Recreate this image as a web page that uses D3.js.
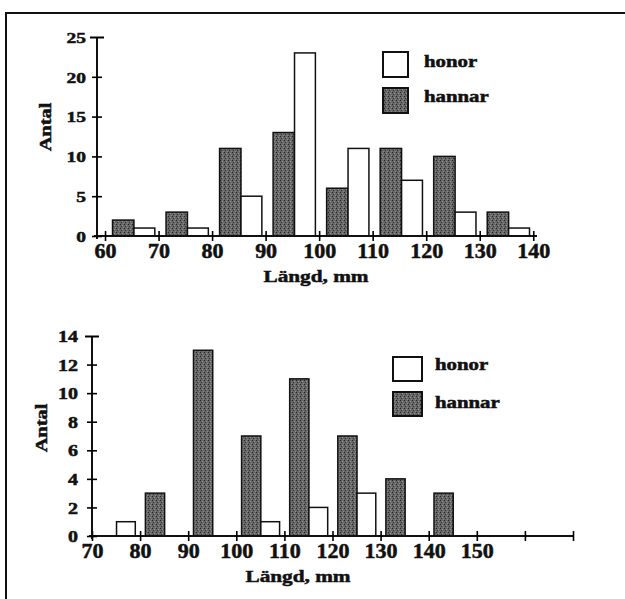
<!DOCTYPE html>
<html lang="sv">
<head>
<meta charset="UTF-8">
<script src="https://d3js.org/d3.v7.min.js"></script>
<style>
  body { margin: 0; background: #fff; }
  svg text { font-family: "Liberation Serif", "Times New Roman", serif; font-weight: bold; fill: #111;
             stroke: #111; stroke-width: 0.5px; }
</style>
</head>
<body>
<script>
// övre diagrammet
const topBins = [60, 70, 80, 90, 100, 110, 120, 130];
const topHonor = [1, 1, 5, 23, 11, 7, 3, 1];
const topHannar = [2, 3, 11, 13, 6, 11, 10, 3];
const topXTicks = [60, 70, 80, 90, 100, 110, 120, 130, 140];
const topYTicks = [0, 5, 10, 15, 20, 25];

// nedre diagrammet
const botBins = [70, 80, 90, 100, 110, 120, 130, 140];
const botHonor = [1, 0, 0, 1, 2, 3, 0, 0];
const botHannar = [0, 3, 13, 7, 11, 7, 4, 3];
const botXTicks = [70, 80, 90, 100, 110, 120, 130, 140, 150, 160, 170];
const botXLabels = [70, 80, 90, 100, 110, 120, 130, 140, 150];
const botYTicks = [0, 2, 4, 6, 8, 10, 12, 14];

const seriesNames = ["honor", "hannar"];

const W = 625, H = 599;
const svg = d3.select("body").append("svg").attr("width", W).attr("height", H);

// prickigt grått mönster för hannar
const pat = svg.append("defs").append("pattern")
  .attr("id", "stipple").attr("width", 4).attr("height", 4)
  .attr("patternUnits", "userSpaceOnUse");
pat.append("rect").attr("width", 4).attr("height", 4).attr("fill", "#666");
pat.append("rect").attr("x", 0).attr("y", 0).attr("width", 1).attr("height", 1).attr("fill", "#222");
pat.append("rect").attr("x", 2).attr("y", 1).attr("width", 1).attr("height", 1).attr("fill", "#999");
pat.append("rect").attr("x", 1).attr("y", 2).attr("width", 1).attr("height", 1).attr("fill", "#333");
pat.append("rect").attr("x", 3).attr("y", 3).attr("width", 1).attr("height", 1).attr("fill", "#888");
const DARK = "url(#stipple)";

// ram
svg.append("line").attr("x1", 6).attr("x2", W).attr("y1", 13).attr("y2", 13)
  .attr("stroke", "#111").attr("stroke-width", 2);
svg.append("line").attr("x1", 6).attr("x2", 6).attr("y1", 12).attr("y2", H)
  .attr("stroke", "#111").attr("stroke-width", 2);

function label(x, y, s, size, sx, anchor, rot) {
  const t = svg.append("text")
    .attr("transform", `translate(${x},${y}) rotate(${rot || 0}) scale(${sx},1)`)
    .attr("text-anchor", anchor || "middle")
    .style("font-size", size + "px")
    .text(s);
  return t;
}

function drawChart(o) {
  const x = d3.scaleLinear().domain(o.xDomain).range(o.xRange);
  const y = d3.scaleLinear().domain(o.yDomain).range(o.yRange);
  const g = svg.append("g");

  // staplar
  o.bins.forEach((b, i) => {
    if (o.hannar[i] > 0) {
      g.append("rect")
        .attr("x", x(b + o.off[0])).attr("width", x(b + o.off[1]) - x(b + o.off[0]))
        .attr("y", y(o.hannar[i])).attr("height", y(0) - y(o.hannar[i]))
        .attr("fill", DARK).attr("stroke", "#111").attr("stroke-width", 1.5);
    }
    if (o.honor[i] > 0) {
      g.append("rect")
        .attr("x", x(b + o.off[1])).attr("width", x(b + o.off[2]) - x(b + o.off[1]))
        .attr("y", y(o.honor[i])).attr("height", y(0) - y(o.honor[i]))
        .attr("fill", "#fff").attr("stroke", "#111").attr("stroke-width", 1.5);
    }
  });

  // x-axel
  const xa = g.append("g").attr("transform", `translate(0,${o.yRange[0]})`)
    .call(d3.axisBottom(x).tickValues(o.xTicks).tickSize(5)
      .tickFormat(d => o.xLabels.includes(d) ? d : ""));
  xa.select(".domain").attr("stroke", "#111").attr("stroke-width", 2)
    .attr("d", `M${o.xRange[0] - 3},0H${o.xRange[1]}`);
  xa.selectAll(".tick line").attr("y1", -5).attr("y2", 5).attr("stroke-width", 1.6);
  xa.selectAll(".tick text").attr("y", 22).attr("dy", null)
    .attr("transform", `scale(${o.xsx},1)`)
    .style("font-size", o.xfs + "px").style("font-family", null).attr("fill", "#111");

  // y-axel
  const ya = g.append("g").attr("transform", `translate(${o.xRange[0]},0)`)
    .call(d3.axisLeft(y).tickValues(o.yTicks).tickSize(5));
  ya.select(".domain").attr("stroke", "#111").attr("stroke-width", 2)
    .attr("d", `M0,${o.yRange[0] + 3}V${o.yRange[1]}`);
  ya.selectAll(".tick line").attr("x1", -5).attr("x2", 5).attr("stroke-width", 1.6);
  ya.selectAll(".tick").filter(d => d === o.yDomain[1]).select("line")
    .attr("x1", -7).attr("x2", 7).attr("stroke-width", 2);
  ya.selectAll(".tick text").attr("x", 0).attr("dy", "0.35em")
    .attr("transform", `translate(${-o.ygap},0) scale(${o.ysx},1)`)
    .style("font-size", o.yfs + "px").style("font-family", null).attr("fill", "#111");
  g.selectAll(".tick text").style("font-weight", "bold");

  // axeltitlar
  label(o.ytitle[0], o.ytitle[1], "Antal", 17, 1.2, "middle", -90)
    .attr("dominant-baseline", "central");
  label(o.xtitle[0], o.xtitle[1], "Längd, mm", 17, 1.25, "middle");

  // förklaring
  const L = o.legend;
  seriesNames.forEach((n, i) => {
    svg.append("rect")
      .attr("x", L.x).attr("y", L.y[i]).attr("width", L.w).attr("height", L.h)
      .attr("fill", i === 0 ? "#fff" : DARK).attr("stroke", "#111").attr("stroke-width", 2);
    label(L.tx, L.ty[i], n, 16, 1.3, "start");
  });
}

drawChart({
  bins: topBins, honor: topHonor, hannar: topHannar,
  xDomain: [58.5, 140.7], xRange: [97, 537],
  yDomain: [0, 25], yRange: [236, 37],
  xTicks: topXTicks, xLabels: topXTicks, yTicks: topYTicks,
  off: [1.4, 5.4, 9.3],
  xfs: 20, xsx: 1.1, yfs: 15, ysx: 1.3, ygap: 11,
  ytitle: [45, 127], xtitle: [316, 282],
  legend: { x: 383, y: [52, 88], w: 25, h: 25, tx: 424, ty: [67, 102] }
});

drawChart({
  bins: botBins, honor: botHonor, hannar: botHannar,
  xDomain: [70, 170], xRange: [92, 573],
  yDomain: [0, 14], yRange: [536, 336],
  xTicks: botXTicks, xLabels: botXLabels, yTicks: botYTicks,
  off: [1.1, 5.1, 9.0],
  xfs: 20, xsx: 1.1, yfs: 16, ysx: 1.25, ygap: 14,
  ytitle: [41, 428], xtitle: [298, 582],
  legend: { x: 393, y: [357, 392], w: 29, h: 24, tx: 435, ty: [370, 408] }
});
</script>
</body>
</html>
